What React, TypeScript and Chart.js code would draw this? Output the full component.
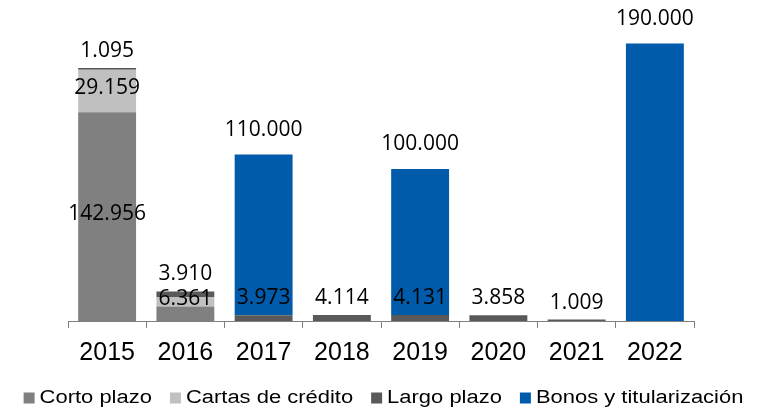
import React, { useEffect, useRef } from 'react';
import { Chart, registerables } from 'chart.js';

Chart.register(...registerables);

const years = ['2015', '2016', '2017', '2018', '2019', '2020', '2021', '2022'];
const cortoPlazo = [142956, 10000, 0, 0, 0, 0, 0, 0];
const cartasCredito = [29159, 6361, 0, 0, 0, 0, 0, 0];
const largoPlazo = [1095, 3910, 3973, 4114, 4131, 3858, 1009, 0];
const bonosTitularizacion = [0, 0, 110000, 0, 100000, 0, 0, 190000];
const cortoLabelShown = [true, false, false, false, false, false, false, false];

const fmt = (v: number) => new Intl.NumberFormat('de-DE').format(v);

const labelPlugin = {
  id: 'segLabels',
  afterDatasetsDraw(chart: any) {
    const ctx = chart.ctx;
    ctx.save();
    ctx.font = '21px "Open Sans"';
    ctx.fillStyle = '#000';
    ctx.textAlign = 'center';
    ctx.textBaseline = 'middle';
    chart.data.datasets.forEach((ds: any, di: number) => {
      const meta = chart.getDatasetMeta(di);
      meta.data.forEach((el: any, i: number) => {
        const v = ds.data[i];
        if (!v) return;
        if (ds.showLabel && !ds.showLabel[i]) return;
        let y;
        if (ds.labelMode === 'center') y = (el.y + el.base) / 2 - 3;
        else if (ds.labelMode === 'above') y = el.y - 17;
        else y = el.y - 25;
        ctx.fillText(fmt(v), el.x, y);
      });
    });
    ctx.restore();
  },
};

const legendPlugin = {
  id: 'customLegend',
  afterDraw(chart: any) {
    const ctx = chart.ctx;
    const sx = 1.22;
    const gap = 5;
    const spacing = 18;
    const box = 11;
    const y = 398;
    ctx.save();
    ctx.font = '18px "Liberation Sans"';
    ctx.textBaseline = 'middle';
    ctx.textAlign = 'left';
    const items = chart.data.datasets.map((ds: any) => ({
      text: ds.label,
      color: ds.backgroundColor,
      w: box + gap + ctx.measureText(ds.label).width * sx,
    }));
    const total = items.reduce((s: number, it: any) => s + it.w, 0) + spacing * (items.length - 1);
    let x = (chart.width - total) / 2;
    items.forEach((it: any) => {
      ctx.fillStyle = it.color;
      ctx.fillRect(x, y - box / 2, box, box);
      ctx.fillStyle = '#000';
      ctx.save();
      ctx.translate(x + box + gap, y);
      ctx.scale(sx, 1);
      ctx.fillText(it.text, 0, 0);
      ctx.restore();
      x += it.w + spacing;
    });
    ctx.restore();
  },
};

export default function App() {
  const ref = useRef<HTMLCanvasElement>(null);
  useEffect(() => {
    document.body.style.margin = '0';
    const chart = new Chart(ref.current as HTMLCanvasElement, {
      type: 'bar',
      data: {
        labels: years,
        datasets: [
          { label: 'Corto plazo', data: cortoPlazo, backgroundColor: '#808080', labelMode: 'center', showLabel: cortoLabelShown } as any,
          { label: 'Cartas de crédito', data: cartasCredito, backgroundColor: '#c0c0c0', labelMode: 'center' } as any,
          { label: 'Largo plazo', data: largoPlazo, backgroundColor: '#595959', labelMode: 'above' } as any,
          { label: 'Bonos y titularización', data: bonosTitularizacion, backgroundColor: '#005baa', labelMode: 'top' } as any,
        ],
      },
      options: {
        animation: false,
        responsive: false,
        layout: { padding: { left: 68, right: 73, top: 29, bottom: 35 } },
        datasets: { bar: { categoryPercentage: 1, barPercentage: 0.74 } },
        scales: {
          x: {
            stacked: true,
            afterFit: (scale: any) => { scale.height = 55; },
            grid: { display: true, offset: true, drawOnChartArea: false, drawTicks: true, tickLength: 7, color: '#808080' },
            border: { display: true, color: '#808080' },
            ticks: { color: '#000', font: { family: 'Liberation Sans', size: 25 }, padding: 10 },
          },
          y: { stacked: true, display: false, min: 0, max: 200000 },
        },
        plugins: {
          legend: { display: false },
          tooltip: { enabled: false },
        },
      },
      plugins: [labelPlugin, legendPlugin],
    });
    return () => chart.destroy();
  }, []);
  return (
    <div style={{ width: 767, height: 411 }}>
      <canvas ref={ref} width={767} height={411} />
    </div>
  );
}
